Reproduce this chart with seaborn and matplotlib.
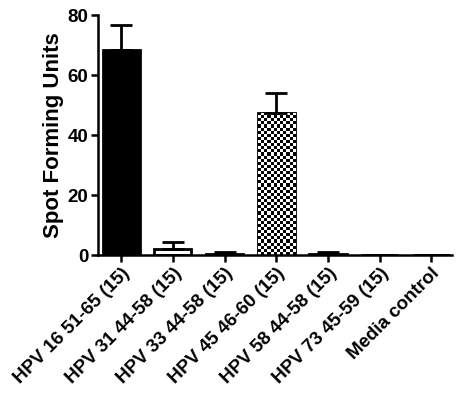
import numpy as np
import pandas as pd
import matplotlib
matplotlib.use("Agg")
import matplotlib.pyplot as plt
import seaborn as sns

# Data
peptides = ["HPV 16 51-65 (15)", "HPV 31 44-58 (15)", "HPV 33 44-58 (15)",
            "HPV 45 46-60 (15)", "HPV 58 44-58 (15)", "HPV 73 45-59 (15)",
            "Media control"]
sfu_mean = [68.2, 2.0, 0.4, 47.5, 0.4, 0.0, 0.0]
sfu_sem = [8.6, 2.3, 0.5, 6.6, 0.5, 0.0, 0.0]
fills = ["black", "white", "#444444", "checker", "#444444", "white", "white"]

sns.set_theme(style="ticks", rc={"text.color": "black", "axes.labelcolor": "black",
                                 "xtick.color": "black", "ytick.color": "black",
                                 "axes.edgecolor": "black"})
plt.rcParams["font.family"] = ["Liberation Sans", "DejaVu Sans"]

df = pd.DataFrame({"peptide": peptides, "sfu": sfu_mean})

fig = plt.figure(figsize=(4.66, 3.95), dpi=100)
ax = fig.add_axes([0.2100, 0.3544, 0.7600, 0.6076])

sns.barplot(data=df, x="peptide", y="sfu", ax=ax, width=0.72,
            color="white", edgecolor="black", linewidth=2, errorbar=None)

# styling per bar
for bar, f in zip(ax.patches, fills):
    if f == "checker":
        bar.set_facecolor("white")
        x0, w = bar.get_x(), bar.get_width()
        h = bar.get_height()
        ncol = 12
        nrow = int(round(h * 3 / (37 / ncol)))
        board = (np.add.outer(np.arange(nrow), np.arange(ncol)) % 2).astype(float)
        im = ax.imshow(board, cmap="gray", extent=[x0, x0 + w, 0, h],
                       interpolation="nearest", aspect="auto", zorder=bar.get_zorder())
        im.set_clip_path(bar)
    else:
        bar.set_facecolor(f)

# upward-only error bars
xs = np.arange(len(peptides))
ax.errorbar(xs, sfu_mean, yerr=[np.zeros(len(sfu_sem)), sfu_sem], fmt="none",
            ecolor="black", elinewidth=2, capsize=8, capthick=2, zorder=1)

ax.set_xlim(-0.45, 6.4)
ax.set_ylim(0, 80)
ax.set_yticks([0, 20, 40, 60, 80])
ax.set_xlabel("")
ax.set_ylabel("Spot Forming Units", fontsize=16, fontweight="bold", labelpad=2)
ax.tick_params(axis="both", width=1.8, length=5, labelsize=13.5, pad=2)
for lab in ax.get_yticklabels():
    lab.set_fontweight("bold")
ax.set_xticks(xs)
ax.set_xticklabels(peptides, rotation=45, ha="right", rotation_mode="anchor",
                   fontweight="bold", fontsize=13.5)
for s in ["left", "bottom"]:
    ax.spines[s].set_linewidth(1.8)
sns.despine(ax=ax)

fig.savefig("out.png", dpi=100)
